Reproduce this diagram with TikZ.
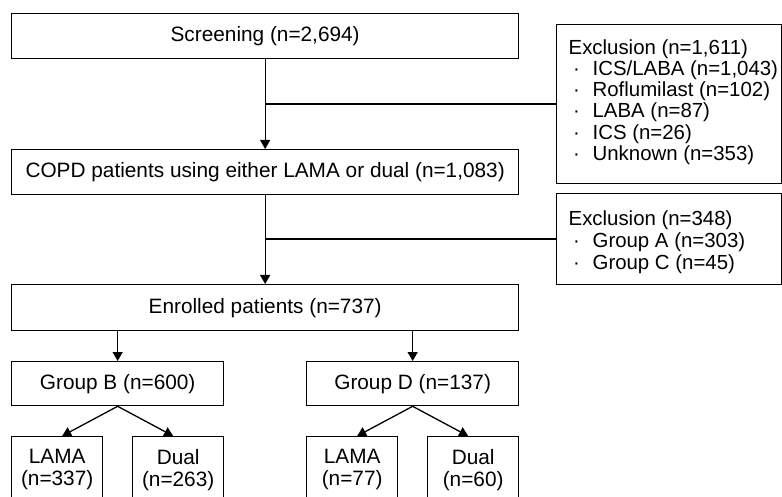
\documentclass[tikz,border=0pt]{standalone}
\usepackage{fontspec}
\setmainfont{Liberation Sans}
\usetikzlibrary{arrows.meta}
\newcommand{\bul}{\makebox[24pt][l]{\hspace{4.5pt}·}}
\begin{document}
\begin{tikzpicture}[x=1pt,y=-1pt,
  box/.style={draw, line width=1.3pt, inner sep=0pt, align=center,
              font=\fontsize{20.8}{22}\selectfont},
  exbox/.style={box, anchor=north west, align=left, font=\fontsize{20.4}{22}\selectfont},
  arr/.style={-{Triangle[length=9pt,width=10pt]}, line width=1.3pt},
  ln/.style={line width=1.3pt}]
\useasboundingbox (0,0) rectangle (782,497);
\clip (0,0) rectangle (782,497);
% main column
\node[box, anchor=north west, minimum width=507pt, minimum height=45pt] (scr) at (11,13) {Screening (n=2,694)};
\node[box, anchor=north west, minimum width=507pt, minimum height=45pt] (copd) at (11,149) {COPD patients using either LAMA or dual (n=1,083)};
\node[box, anchor=north west, minimum width=507pt, minimum height=46pt] (enr) at (11,284) {Enrolled patients (n=737)};
% exclusion boxes
\node[exbox] (ex1) at (556,24)
  {\parbox[t][159pt][t]{225pt}{\leftskip=12pt \rightskip=-40pt \baselineskip=21.2pt \rule{0pt}{29.6pt}Exclusion (n=1,611)\\
   \bul ICS/LABA (n=1,043)\\ \bul Roflumilast (n=102)\\ \bul LABA (n=87)\\ \bul ICS (n=26)\\ \bul Unknown (n=353)}};
\node[exbox] (ex2) at (556,193)
  {\parbox[t][91pt][t]{225pt}{\leftskip=12pt \rightskip=-40pt \baselineskip=22pt \rule{0pt}{31.6pt}Exclusion (n=348)\\
   \bul Group A (n=303)\\ \bul Group C (n=45)}};
% groups
\node[box, anchor=north west, minimum width=212pt, minimum height=44pt] (gb) at (11,361) {Group B (n=600)};
\node[box, anchor=north west, minimum width=212pt, minimum height=44pt] (gd) at (306,361) {Group D (n=137)};
% bottom boxes
\node[box, anchor=north west, minimum width=91pt, minimum height=66pt] (lb) at (11,436) {LAMA\\(n=337)};
\node[box, anchor=north west, minimum width=91pt, minimum height=66pt] (db) at (132,436) {Dual\\(n=263)};
\node[box, anchor=north west, minimum width=91pt, minimum height=66pt] (ld) at (306,436) {LAMA\\(n=77)};
\node[box, anchor=north west, minimum width=91pt, minimum height=66pt] (dd) at (427,436) {Dual\\(n=60)};
% connectors
\draw[arr] (scr.south) -- (copd.north);
\coordinate (b1) at (264.5,104);
\draw[ln] (b1) -- (b1 -| ex1.west);
\draw[arr] (copd.south) -- (enr.north);
\coordinate (b2) at (264.5,239);
\draw[ln] (b2) -- (b2 -| ex2.west);
\draw[arr] (gb.north |- enr.south) -- (gb.north);
\draw[arr] (gd.north |- enr.south) -- (gd.north);
\draw[arr] (gb.south) -- ([xshift=5pt]lb.north);
\draw[arr] (gb.south) -- ([xshift=-5pt]db.north);
\draw[arr] (gd.south) -- ([xshift=5pt]ld.north);
\draw[arr] (gd.south) -- ([xshift=-5pt]dd.north);
\end{tikzpicture}
\end{document}
